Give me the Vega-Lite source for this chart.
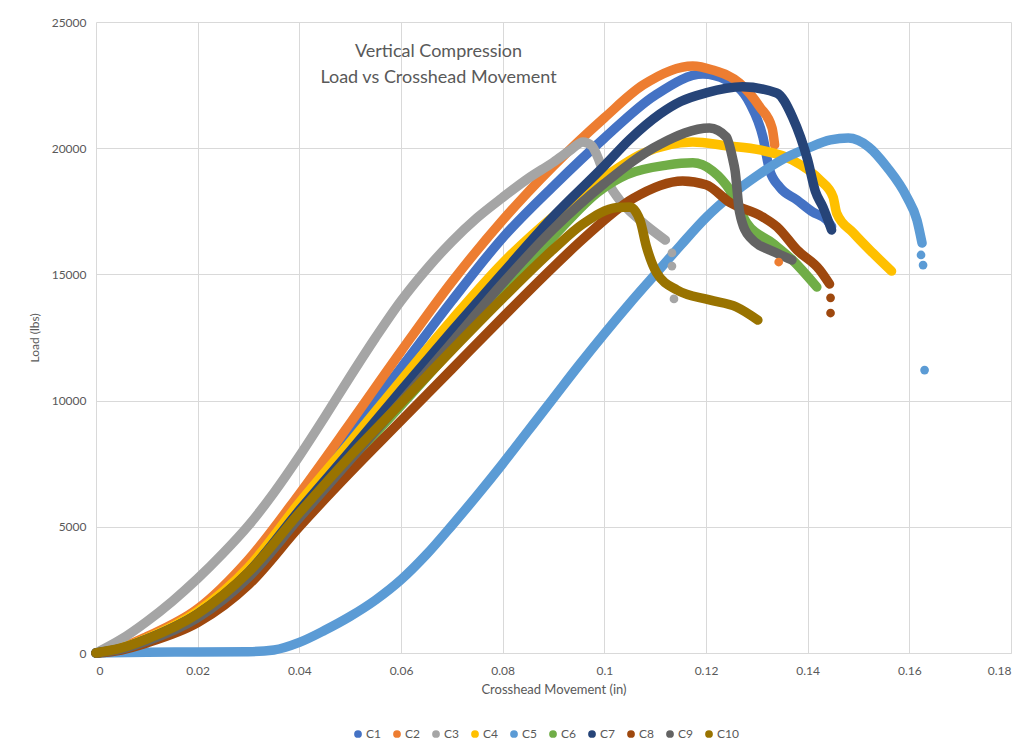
{
  "$schema": "https://vega.github.io/schema/vega-lite/v6.json",
  "autosize": {"type": "none"},
  "width": 915,
  "height": 631,
  "padding": {"left": 96, "top": 22, "right": 20, "bottom": 101},
  "background": "white",
  "config": {
    "font": "Lato",
    "view": {"stroke": null},
    "axis": {"gridColor": "#D9D9D9", "gridWidth": 1, "labelColor": "#595959", "titleColor": "#595959", "labelFont": "Lato", "titleFont": "Lato", "labelFontSize": 12, "titleFontSize": 13, "titleFontWeight": "normal", "ticks": false}
  },
  "title": {
    "text": ["Vertical Compression", "Load vs Crosshead Movement"],
    "anchor": "middle",
    "frame": "group",
    "baseline": "top",
    "offset": -71,
    "dx": -115,
    "fontSize": 18,
    "lineHeight": 26,
    "font": "Lato",
    "fontWeight": "normal",
    "color": "#595959"
  },
  "datasets": {
    "curves": [
      {"s":"C1","k":"line","x":0,"y":0},{"s":"C1","k":"line","x":0.005,"y":200},{"s":"C1","k":"line","x":0.01,"y":600},{"s":"C1","k":"line","x":0.02,"y":1700},{"s":"C1","k":"line","x":0.03,"y":3500},{"s":"C1","k":"line","x":0.04,"y":6100},{"s":"C1","k":"line","x":0.05,"y":8700},{"s":"C1","k":"line","x":0.06,"y":11300},{"s":"C1","k":"line","x":0.07,"y":13950},{"s":"C1","k":"line","x":0.08,"y":16450},{"s":"C1","k":"line","x":0.09,"y":18500},{"s":"C1","k":"line","x":0.1,"y":20400},{"s":"C1","k":"line","x":0.11,"y":22100},{"s":"C1","k":"line","x":0.1194,"y":22940},{"s":"C1","k":"line","x":0.124,"y":22700},{"s":"C1","k":"line","x":0.1286,"y":21790},{"s":"C1","k":"line","x":0.1312,"y":20440},{"s":"C1","k":"line","x":0.1325,"y":19140},{"s":"C1","k":"line","x":0.1345,"y":18460},{"s":"C1","k":"line","x":0.1379,"y":17950},{"s":"C1","k":"line","x":0.141,"y":17470},{"s":"C1","k":"line","x":0.1438,"y":17150},{"s":"C1","k":"line","x":0.1447,"y":16900},
      {"s":"C2","k":"line","x":0,"y":0},{"s":"C2","k":"line","x":0.005,"y":220},{"s":"C2","k":"line","x":0.01,"y":650},{"s":"C2","k":"line","x":0.02,"y":1750},{"s":"C2","k":"line","x":0.03,"y":3700},{"s":"C2","k":"line","x":0.04,"y":6300},{"s":"C2","k":"line","x":0.05,"y":9100},{"s":"C2","k":"line","x":0.06,"y":11950},{"s":"C2","k":"line","x":0.07,"y":14700},{"s":"C2","k":"line","x":0.08,"y":17150},{"s":"C2","k":"line","x":0.09,"y":19300},{"s":"C2","k":"line","x":0.1,"y":21200},{"s":"C2","k":"line","x":0.1076,"y":22500},{"s":"C2","k":"line","x":0.1174,"y":23260},{"s":"C2","k":"line","x":0.1213,"y":23100},{"s":"C2","k":"line","x":0.1266,"y":22580},{"s":"C2","k":"line","x":0.1306,"y":21630},{"s":"C2","k":"line","x":0.133,"y":20800},{"s":"C2","k":"line","x":0.1335,"y":20130},{"s":"C2","k":"dot","x":0.1343,"y":15490},
      {"s":"C3","k":"line","x":0,"y":0},{"s":"C3","k":"line","x":0.005,"y":550},{"s":"C3","k":"line","x":0.01,"y":1250},{"s":"C3","k":"line","x":0.015,"y":2050},{"s":"C3","k":"line","x":0.02,"y":2950},{"s":"C3","k":"line","x":0.025,"y":3950},{"s":"C3","k":"line","x":0.03,"y":5050},{"s":"C3","k":"line","x":0.035,"y":6350},{"s":"C3","k":"line","x":0.04,"y":7800},{"s":"C3","k":"line","x":0.045,"y":9350},{"s":"C3","k":"line","x":0.05,"y":10950},{"s":"C3","k":"line","x":0.055,"y":12500},{"s":"C3","k":"line","x":0.06,"y":13950},{"s":"C3","k":"line","x":0.065,"y":15200},{"s":"C3","k":"line","x":0.07,"y":16300},{"s":"C3","k":"line","x":0.075,"y":17250},{"s":"C3","k":"line","x":0.08,"y":18050},{"s":"C3","k":"line","x":0.085,"y":18800},{"s":"C3","k":"line","x":0.09,"y":19450},{"s":"C3","k":"line","x":0.0935,"y":19950},{"s":"C3","k":"line","x":0.0958,"y":20250},{"s":"C3","k":"line","x":0.0975,"y":20100},{"s":"C3","k":"line","x":0.099,"y":19500},{"s":"C3","k":"line","x":0.1,"y":18950},{"s":"C3","k":"line","x":0.103,"y":17950},{"s":"C3","k":"line","x":0.107,"y":17150},{"s":"C3","k":"line","x":0.112,"y":16360},{"s":"C3","k":"dot","x":0.1133,"y":15850},{"s":"C3","k":"dot","x":0.1133,"y":15330},{"s":"C3","k":"dot","x":0.1137,"y":14030},
      {"s":"C4","k":"line","x":0,"y":0},{"s":"C4","k":"line","x":0.005,"y":200},{"s":"C4","k":"line","x":0.01,"y":580},{"s":"C4","k":"line","x":0.02,"y":1650},{"s":"C4","k":"line","x":0.03,"y":3400},{"s":"C4","k":"line","x":0.04,"y":5950},{"s":"C4","k":"line","x":0.05,"y":8350},{"s":"C4","k":"line","x":0.06,"y":10800},{"s":"C4","k":"line","x":0.07,"y":13200},{"s":"C4","k":"line","x":0.08,"y":15450},{"s":"C4","k":"line","x":0.09,"y":17300},{"s":"C4","k":"line","x":0.1,"y":18850},{"s":"C4","k":"line","x":0.1076,"y":19800},{"s":"C4","k":"line","x":0.1174,"y":20250},{"s":"C4","k":"line","x":0.124,"y":20100},{"s":"C4","k":"line","x":0.1306,"y":19930},{"s":"C4","k":"line","x":0.137,"y":19530},{"s":"C4","k":"line","x":0.1424,"y":18740},{"s":"C4","k":"line","x":0.145,"y":18070},{"s":"C4","k":"line","x":0.1457,"y":17430},{"s":"C4","k":"line","x":0.149,"y":16640},{"s":"C4","k":"line","x":0.1528,"y":15850},{"s":"C4","k":"line","x":0.1565,"y":15130},
      {"s":"C5","k":"line","x":0,"y":0},{"s":"C5","k":"line","x":0.01,"y":30},{"s":"C5","k":"line","x":0.02,"y":40},{"s":"C5","k":"line","x":0.03,"y":50},{"s":"C5","k":"line","x":0.035,"y":120},{"s":"C5","k":"line","x":0.04,"y":420},{"s":"C5","k":"line","x":0.045,"y":900},{"s":"C5","k":"line","x":0.05,"y":1450},{"s":"C5","k":"line","x":0.055,"y":2100},{"s":"C5","k":"line","x":0.06,"y":2900},{"s":"C5","k":"line","x":0.065,"y":3900},{"s":"C5","k":"line","x":0.07,"y":5050},{"s":"C5","k":"line","x":0.075,"y":6250},{"s":"C5","k":"line","x":0.08,"y":7500},{"s":"C5","k":"line","x":0.085,"y":8800},{"s":"C5","k":"line","x":0.09,"y":10100},{"s":"C5","k":"line","x":0.095,"y":11400},{"s":"C5","k":"line","x":0.1,"y":12650},{"s":"C5","k":"line","x":0.105,"y":13850},{"s":"C5","k":"line","x":0.11,"y":15000},{"s":"C5","k":"line","x":0.115,"y":16150},{"s":"C5","k":"line","x":0.12,"y":17250},{"s":"C5","k":"line","x":0.125,"y":18150},{"s":"C5","k":"line","x":0.13,"y":18900},{"s":"C5","k":"line","x":0.135,"y":19550},{"s":"C5","k":"line","x":0.14,"y":20000},{"s":"C5","k":"line","x":0.1445,"y":20330},{"s":"C5","k":"line","x":0.148,"y":20400},{"s":"C5","k":"line","x":0.152,"y":20050},{"s":"C5","k":"line","x":0.1556,"y":19250},{"s":"C5","k":"line","x":0.1595,"y":18070},{"s":"C5","k":"line","x":0.1615,"y":17150},{"s":"C5","k":"line","x":0.1625,"y":16240},{"s":"C5","k":"dot","x":0.1623,"y":15770},{"s":"C5","k":"dot","x":0.1627,"y":15370},{"s":"C5","k":"dot","x":0.163,"y":11210},
      {"s":"C6","k":"line","x":0,"y":0},{"s":"C6","k":"line","x":0.005,"y":150},{"s":"C6","k":"line","x":0.01,"y":450},{"s":"C6","k":"line","x":0.02,"y":1400},{"s":"C6","k":"line","x":0.03,"y":3000},{"s":"C6","k":"line","x":0.04,"y":5350},{"s":"C6","k":"line","x":0.05,"y":7600},{"s":"C6","k":"line","x":0.06,"y":9800},{"s":"C6","k":"line","x":0.07,"y":12050},{"s":"C6","k":"line","x":0.08,"y":14300},{"s":"C6","k":"line","x":0.09,"y":16500},{"s":"C6","k":"line","x":0.099,"y":18300},{"s":"C6","k":"line","x":0.1044,"y":18950},{"s":"C6","k":"line","x":0.1123,"y":19330},{"s":"C6","k":"line","x":0.1174,"y":19420},{"s":"C6","k":"line","x":0.1213,"y":19100},{"s":"C6","k":"line","x":0.1247,"y":18340},{"s":"C6","k":"line","x":0.128,"y":17040},{"s":"C6","k":"line","x":0.1331,"y":16240},{"s":"C6","k":"line","x":0.137,"y":15570},{"s":"C6","k":"line","x":0.1418,"y":14500},
      {"s":"C7","k":"line","x":0,"y":0},{"s":"C7","k":"line","x":0.005,"y":180},{"s":"C7","k":"line","x":0.01,"y":550},{"s":"C7","k":"line","x":0.02,"y":1550},{"s":"C7","k":"line","x":0.03,"y":3200},{"s":"C7","k":"line","x":0.04,"y":5650},{"s":"C7","k":"line","x":0.05,"y":8000},{"s":"C7","k":"line","x":0.06,"y":10400},{"s":"C7","k":"line","x":0.07,"y":12750},{"s":"C7","k":"line","x":0.08,"y":15050},{"s":"C7","k":"line","x":0.09,"y":17300},{"s":"C7","k":"line","x":0.1,"y":19300},{"s":"C7","k":"line","x":0.105,"y":20350},{"s":"C7","k":"line","x":0.1109,"y":21350},{"s":"C7","k":"line","x":0.115,"y":21850},{"s":"C7","k":"line","x":0.12,"y":22190},{"s":"C7","k":"line","x":0.1272,"y":22430},{"s":"C7","k":"line","x":0.1339,"y":22190},{"s":"C7","k":"line","x":0.137,"y":21240},{"s":"C7","k":"line","x":0.14,"y":19530},{"s":"C7","k":"line","x":0.1415,"y":18300},{"s":"C7","k":"line","x":0.143,"y":17670},{"s":"C7","k":"line","x":0.1447,"y":16760},
      {"s":"C8","k":"line","x":0,"y":0},{"s":"C8","k":"line","x":0.005,"y":120},{"s":"C8","k":"line","x":0.01,"y":400},{"s":"C8","k":"line","x":0.02,"y":1200},{"s":"C8","k":"line","x":0.03,"y":2700},{"s":"C8","k":"line","x":0.04,"y":5000},{"s":"C8","k":"line","x":0.05,"y":7150},{"s":"C8","k":"line","x":0.06,"y":9200},{"s":"C8","k":"line","x":0.07,"y":11250},{"s":"C8","k":"line","x":0.08,"y":13300},{"s":"C8","k":"line","x":0.09,"y":15300},{"s":"C8","k":"line","x":0.0958,"y":16400},{"s":"C8","k":"line","x":0.1056,"y":18000},{"s":"C8","k":"line","x":0.1154,"y":18700},{"s":"C8","k":"line","x":0.12,"y":18550},{"s":"C8","k":"line","x":0.1247,"y":17850},{"s":"C8","k":"line","x":0.1312,"y":17270},{"s":"C8","k":"line","x":0.134,"y":16880},{"s":"C8","k":"line","x":0.1379,"y":15970},{"s":"C8","k":"line","x":0.1424,"y":15170},{"s":"C8","k":"line","x":0.1443,"y":14620},{"s":"C8","k":"dot","x":0.1445,"y":14070},{"s":"C8","k":"dot","x":0.1445,"y":13470},
      {"s":"C9","k":"line","x":0,"y":0},{"s":"C9","k":"line","x":0.005,"y":150},{"s":"C9","k":"line","x":0.01,"y":470},{"s":"C9","k":"line","x":0.02,"y":1400},{"s":"C9","k":"line","x":0.03,"y":3000},{"s":"C9","k":"line","x":0.04,"y":5350},{"s":"C9","k":"line","x":0.05,"y":7650},{"s":"C9","k":"line","x":0.06,"y":9950},{"s":"C9","k":"line","x":0.07,"y":12300},{"s":"C9","k":"line","x":0.08,"y":14650},{"s":"C9","k":"line","x":0.09,"y":16800},{"s":"C9","k":"line","x":0.1,"y":18600},{"s":"C9","k":"line","x":0.1109,"y":20150},{"s":"C9","k":"line","x":0.1207,"y":20800},{"s":"C9","k":"line","x":0.124,"y":20440},{"s":"C9","k":"line","x":0.1253,"y":19530},{"s":"C9","k":"line","x":0.1257,"y":19140},{"s":"C9","k":"line","x":0.1266,"y":17470},{"s":"C9","k":"line","x":0.1286,"y":16480},{"s":"C9","k":"line","x":0.1339,"y":15850},{"s":"C9","k":"line","x":0.1369,"y":15570},
      {"s":"C10","k":"line","x":0,"y":0},{"s":"C10","k":"line","x":0.005,"y":200},{"s":"C10","k":"line","x":0.01,"y":550},{"s":"C10","k":"line","x":0.02,"y":1550},{"s":"C10","k":"line","x":0.03,"y":3200},{"s":"C10","k":"line","x":0.04,"y":5550},{"s":"C10","k":"line","x":0.05,"y":7800},{"s":"C10","k":"line","x":0.06,"y":9900},{"s":"C10","k":"line","x":0.07,"y":12000},{"s":"C10","k":"line","x":0.08,"y":14050},{"s":"C10","k":"line","x":0.09,"y":16000},{"s":"C10","k":"line","x":0.0958,"y":17000},{"s":"C10","k":"line","x":0.1025,"y":17650},{"s":"C10","k":"line","x":0.105,"y":17670},{"s":"C10","k":"line","x":0.107,"y":17150},{"s":"C10","k":"line","x":0.1083,"y":16090},{"s":"C10","k":"line","x":0.1103,"y":15060},{"s":"C10","k":"line","x":0.1143,"y":14380},{"s":"C10","k":"line","x":0.1207,"y":13990},{"s":"C10","k":"line","x":0.126,"y":13710},{"s":"C10","k":"line","x":0.1302,"y":13190}
    ]
  },
  "data": {"name": "curves"},
  "encoding": {
    "x": {"field": "x", "type": "quantitative", "scale": {"domain": [0, 0.18], "nice": false, "zero": false},
      "axis": {"title": "Crosshead Movement (in)", "values": [0,0.02,0.04,0.06,0.08,0.1,0.12,0.14,0.16,0.18], "format": "~g", "grid": true, "domain": true, "domainColor": "#D9D9D9", "labelPadding": 12, "titlePadding": 7}},
    "y": {"field": "y", "type": "quantitative", "scale": {"domain": [0, 25000], "nice": false},
      "axis": {"title": "Load (lbs)", "values": [0,5000,10000,15000,20000,25000], "format": "d", "grid": true, "domain": false, "labelPadding": 10, "titlePadding": 10, "titleFontSize": 12}}
  },
  "resolve": {"legend": {"color": "independent"}},
  "layer": [
    {
      "transform": [{"filter": "datum.k == 'line'"}],
      "mark": {"type": "line", "strokeWidth": 9.5, "strokeCap": "round", "strokeJoin": "round", "interpolate": "monotone"},
      "encoding": {"color": {"field": "s", "type": "nominal", "legend": null, "scale": {"domain": ["C1","C2","C3","C4","C5","C6","C7","C8","C9","C10"], "range": ["#4472C4","#ED7D31","#A5A5A5","#FFC000","#5B9BD5","#70AD47","#264478","#9E480E","#636363","#997300"]}}}
    },
    {
      "transform": [{"filter": "datum.k == 'dot'"}],
      "mark": {"type": "circle", "size": 76, "opacity": 1},
      "encoding": {
        "color": {"field": "s", "type": "nominal",
          "scale": {"domain": ["C1","C2","C3","C4","C5","C6","C7","C8","C9","C10"], "range": ["#4472C4","#ED7D31","#A5A5A5","#FFC000","#5B9BD5","#70AD47","#264478","#9E480E","#636363","#997300"]},
          "legend": {"title": null, "orient": "none", "direction": "horizontal", "columns": 10, "legendX": 256, "legendY": 706, "symbolType": "circle", "symbolSize": 60, "labelFontSize": 12, "labelColor": "#595959", "labelFont": "Lato", "columnPadding": 10, "symbolOffset": 0, "labelOffset": 2}
        }
      }
    }
  ]
}
